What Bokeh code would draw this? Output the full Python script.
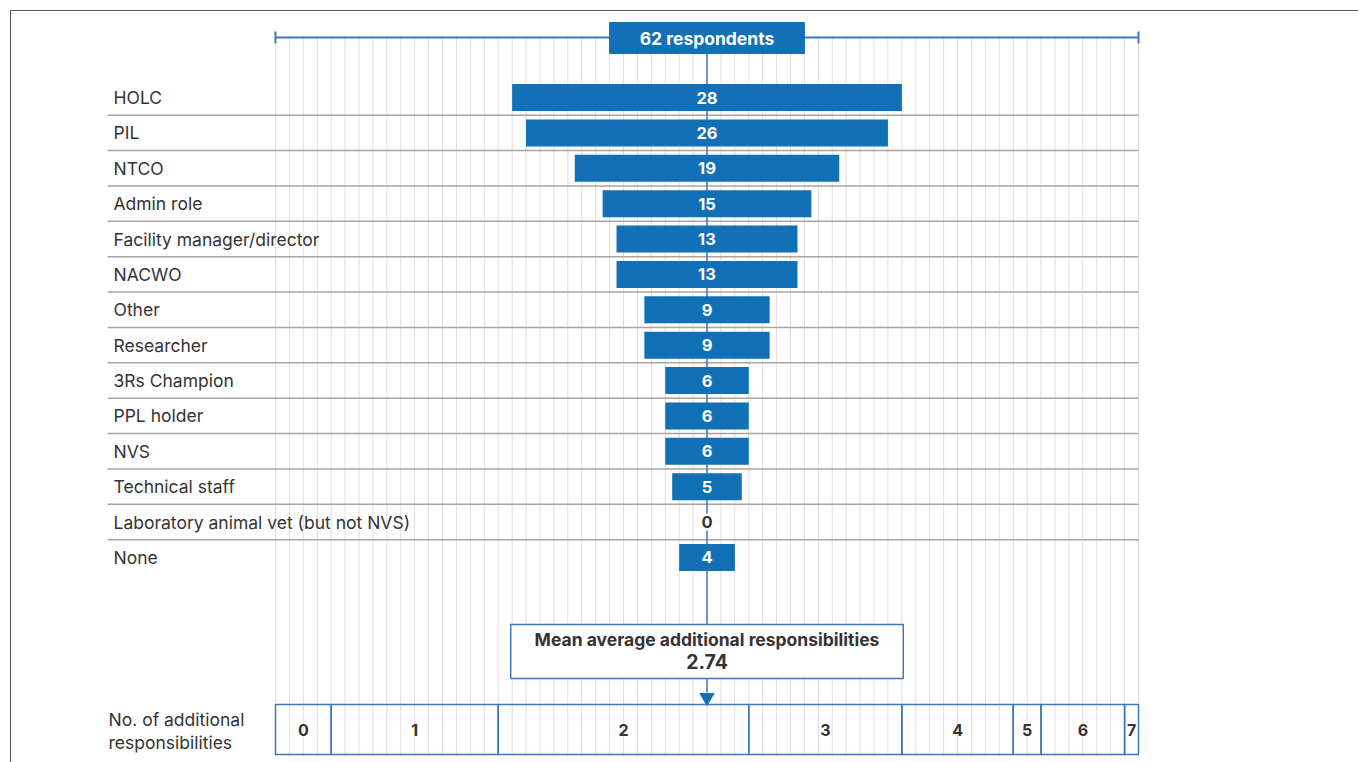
from bokeh.plotting import figure
from bokeh.models import Range1d, ColumnDataSource
from bokeh.core.properties import value
from bokeh.embed import file_html
from bokeh.resources import INLINE

# ---------------- data ----------------
roles = ["HOLC", "PIL", "NTCO", "Admin role", "Facility manager/director", "NACWO",
         "Other", "Researcher", "3Rs Champion", "PPL holder", "NVS", "Technical staff",
         "Laboratory animal vet (but not NVS)", "None"]
counts = [28, 26, 19, 15, 13, 13, 9, 9, 6, 6, 6, 5, 0, 4]
total_respondents = 62
resp_levels = ["0", "1", "2", "3", "4", "5", "6", "7"]
resp_counts = [4, 12, 18, 11, 8, 2, 6, 1]
mean_label = "2.74"

# ---------------- layout ----------------
W, H = 1358, 762
X0_PX, X1_PX = 275, 1138
U = (X1_PX - X0_PX) / total_respondents          # px per respondent
def ux(px):
    return (px - X0_PX) / U

ROW0, PITCH = 97, 35.38
BAR_H = 27
CENTER = total_respondents / 2

BLUE = "#1170b6"
LINE_BLUE = "#3f78bd"
DARK = "#353333"
FONT = value("Inter")

p = figure(width=W, height=H, x_range=Range1d(ux(0), ux(W)), y_range=Range1d(H, 0),
           output_backend="svg", toolbar_location=None, min_border=0)
p.axis.visible = False
p.grid.visible = False
p.outline_line_color = None
p.background_fill_color = "white"
p.border_fill_color = "white"

# frame
p.segment(x0=[ux(10), ux(10)], y0=[10, 10], x1=[ux(10), ux(W + 5)], y1=[H + 5, 10],
          line_color="#555555", line_width=1)

# vertical grid (one line per respondent)
gx = list(range(total_respondents + 1))
p.segment(x0=gx, y0=[37] * len(gx), x1=gx, y1=[756] * len(gx),
          line_color="#e4dcdc", line_width=1)

# row separators
ys = [ROW0 + PITCH * i for i in range(len(roles))]
seps = [y + PITCH / 2 for y in ys[:-1]]
p.segment(x0=[ux(107)] * len(seps), y0=seps, x1=[total_respondents] * len(seps), y1=seps,
          line_color="#aaa3a3", line_width=1.5)

# centre line
p.segment(x0=[CENTER], y0=[53], x1=[CENTER], y1=[692], line_color=LINE_BLUE, line_width=1.5)

# top bracket
p.segment(x0=[0], y0=[37], x1=[total_respondents], y1=[37], line_color=LINE_BLUE, line_width=2)
p.segment(x0=[0, total_respondents], y0=[31, 31], x1=[0, total_respondents], y1=[43, 43],
          line_color=LINE_BLUE, line_width=2)
p.quad(left=[CENTER - 7], right=[CENTER + 7], top=[22], bottom=[53],
       fill_color=BLUE, line_color=BLUE)
p.text(x=[CENTER], y=[38], text=[f"{total_respondents} respondents"], text_color="white",
       text_font=FONT, text_font_style="bold", text_font_size="17.5px",
       text_align="center", text_baseline="middle")

# bars
src = ColumnDataSource(dict(
    y=ys, left=[CENTER - c / 2 for c in counts], right=[CENTER + c / 2 for c in counts],
    lab=[str(c) for c in counts], role=roles,
    tc=["white" if c > 0 else DARK for c in counts]))
p.hbar(y="y", left="left", right="right", height=BAR_H, source=src,
       fill_color=BLUE, line_color=None)
# white patch behind zero labels so the centre line does not cross them
zy = [y for y, c in zip(ys, counts) if c == 0]
p.rect(x=[CENTER] * len(zy), y=zy, width=1.1, height=17, fill_color="white", line_color=None)
p.text(x=CENTER, y="y", text="lab", text_color="tc", source=src, text_font=FONT,
       text_font_style="bold", text_font_size="16.5px", text_align="center",
       text_baseline="middle")
p.text(x=ux(113), y="y", text="role", source=src, text_color=DARK, text_font=FONT,
       text_font_size="17.5px", text_align="left", text_baseline="middle")

# mean box
p.quad(left=[CENTER - 14.1], right=[CENTER + 14.1], top=[624], bottom=[678],
       fill_color="white", line_color=LINE_BLUE, line_width=1.5)
p.text(x=[CENTER], y=[639], text=["Mean average additional responsibilities"],
       text_color=DARK, text_font=FONT, text_font_style="bold", text_font_size="17.5px",
       text_align="center", text_baseline="middle")
p.text(x=[CENTER], y=[661], text=[mean_label], text_color=DARK, text_font=FONT,
       text_font_style="bold", text_font_size="19.5px", text_align="center",
       text_baseline="middle")
p.scatter(x=[CENTER], y=[697], marker="inverted_triangle", size=14,
          fill_color=BLUE, line_color=BLUE)

# bottom segmented bar
lefts, rights = [], []
acc = 0
for c in resp_counts:
    lefts.append(acc)
    acc += c
    rights.append(acc)
bsrc = ColumnDataSource(dict(left=lefts, right=rights,
                             mid=[(a + b) / 2 for a, b in zip(lefts, rights)],
                             lab=resp_levels))
p.quad(left="left", right="right", top=704, bottom=754, source=bsrc,
       fill_color=None, line_color=LINE_BLUE, line_width=1.5)
p.text(x="mid", y=729, text="lab", source=bsrc, text_color=DARK, text_font=FONT,
       text_font_style="bold", text_font_size="16px", text_align="center",
       text_baseline="middle")
p.text(x=[ux(108), ux(108)], y=[719, 742], text=["No. of additional", "responsibilities"],
       text_color=DARK, text_font=FONT, text_font_size="17.5px", text_align="left",
       text_baseline="middle")

open("out.html", "w").write(file_html(p, INLINE))
